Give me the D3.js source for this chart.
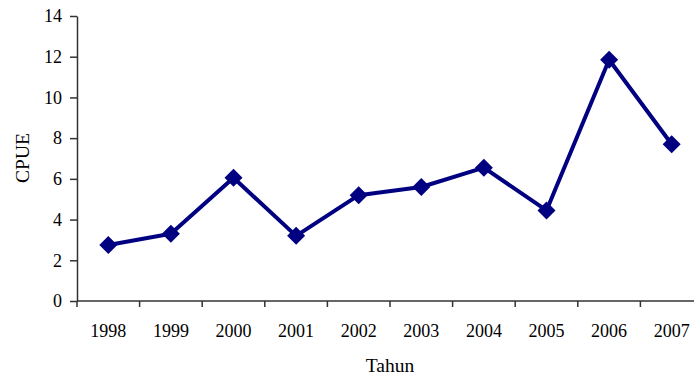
<!DOCTYPE html>
<html>
<head>
<meta charset="utf-8">
<script src="https://cdn.jsdelivr.net/npm/d3@7"></script>
<style>
  html, body { margin: 0; padding: 0; background: #fff; }
  svg { display: block; }
  text { font-family: "Liberation Serif", "Times New Roman", serif; fill: #000; }
</style>
</head>
<body>
<svg id="chart" width="694" height="376"></svg>
<script>
// CPUE per year
const years = ["1998", "1999", "2000", "2001", "2002", "2003", "2004", "2005", "2006", "2007"];
const cpue = [2.75, 3.3, 6.05, 3.2, 5.2, 5.6, 6.55, 4.45, 11.85, 7.7];
const yTicks = [0, 2, 4, 6, 8, 10, 12, 14];

(function drawChart() {
  const svg = d3.select("#chart");
  const plotLeft = 77, plotRight = 703, plotTop = 16, plotBottom = 301;
  const tickFont = "18px";
  const titleFont = "19.5px";

  const x = d3.scaleBand().domain(years).range([plotLeft, plotRight]);
  const y = d3.scaleLinear().domain([0, 14]).range([plotBottom, plotTop]);

  const axisColor = "#333";

  // Y axis
  const yAxis = svg.append("g")
    .attr("transform", `translate(${plotLeft},0)`)
    .call(d3.axisLeft(y).tickValues(yTicks).tickSize(7).tickPadding(8).tickSizeOuter(0));
  yAxis.select(".domain").attr("stroke", axisColor).attr("stroke-width", 1.5);
  yAxis.selectAll(".tick line").attr("stroke", axisColor).attr("stroke-width", 1.5);
  yAxis.selectAll("text").style("font-size", tickFont).style("font-family", "Liberation Serif");

  // X axis: ticks sit at the band boundaries
  const xAxis = svg.append("g").attr("transform", `translate(0,${plotBottom})`);
  xAxis.append("line")
    .attr("x1", plotLeft).attr("x2", 694).attr("y1", 0).attr("y2", 0)
    .attr("stroke", axisColor).attr("stroke-width", 1.5);
  xAxis.selectAll("line.tk")
    .data(years)
    .join("line")
    .attr("class", "tk")
    .attr("x1", d => x(d)).attr("x2", d => x(d))
    .attr("y1", 0).attr("y2", 6)
    .attr("stroke", axisColor).attr("stroke-width", 1.5);
  xAxis.selectAll("text")
    .data(years)
    .join("text")
    .attr("x", d => x(d) + x.bandwidth() / 2)
    .attr("y", 36)
    .attr("text-anchor", "middle")
    .style("font-size", tickFont)
    .text(d => d);

  // Axis titles
  svg.append("text")
    .attr("x", (plotLeft + plotRight) / 2)
    .attr("y", 371.5)
    .attr("text-anchor", "middle")
    .style("font-size", titleFont)
    .text("Tahun");

  svg.append("text")
    .attr("transform", `translate(28.5,158) rotate(-90)`)
    .attr("text-anchor", "middle")
    .style("font-size", titleFont)
    .text("CPUE");

  // Series line
  const color = "#000080";
  const line = d3.line()
    .x((d, i) => x(years[i]) + x.bandwidth() / 2)
    .y(d => y(d));

  svg.append("path")
    .datum(cpue)
    .attr("d", line)
    .attr("fill", "none")
    .attr("stroke", color)
    .attr("stroke-width", 4)
    .attr("stroke-linejoin", "round");

  // Diamond markers
  const diamond = d3.symbol().type(d3.symbolSquare).size(162);
  svg.selectAll("path.mk")
    .data(cpue)
    .join("path")
    .attr("class", "mk")
    .attr("d", diamond)
    .attr("fill", color)
    .attr("transform", (d, i) => `translate(${x(years[i]) + x.bandwidth() / 2},${y(d)}) rotate(45)`);
})();
</script>
</body>
</html>
